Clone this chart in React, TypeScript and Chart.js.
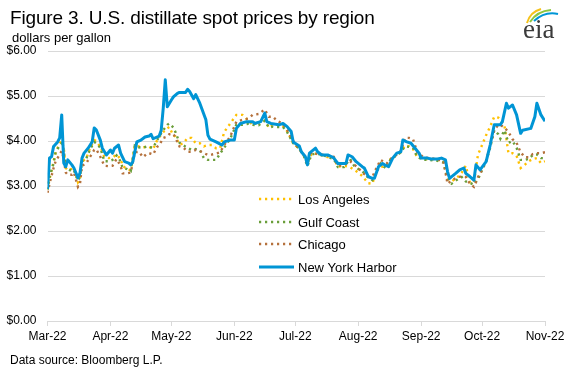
import React, { useEffect, useRef } from "react";
import { Chart, registerables } from "chart.js";

Chart.register(...registerables);

// Month tick positions (days since 1 Mar 2022) and their labels
const monthStarts = [0, 31, 61, 92, 122, 153, 184, 214, 245];
const monthLabels = ["Mar-22", "Apr-22", "May-22", "Jun-22", "Jul-22", "Aug-22", "Sep-22", "Oct-22", "Nov-22"];
const yTicks = [0, 1, 2, 3, 4, 5, 6];

// New York Harbor (days since 1 Mar 2022, $/gal)
const nyDays = [0,1,2,3,5,6,7,8,9,10,12,13,15,16,17,18,20,22,23,24,26,27,29,31,32,33,35,36,38,40,41,42,44,46,48,50,51,52,55,56,57,58,59,61,62,64,65,68,69,70,72,73,75,78,79,80,83,86,87,90,92,93,95,98,101,102,105,107,108,110,114,116,118,120,121,124,125,127,128,129,132,133,135,138,140,141,143,147,148,150,152,155,156,158,160,161,163,165,166,168,170,172,174,175,177,179,181,183,184,187,189,192,194,196,197,198,201,203,205,206,208,210,211,213,216,218,220,223,224,226,227,229,231,233,234,238,240,241,243,245];
const nyVals = [2.93,3.62,3.65,3.88,3.98,4.07,4.58,3.51,3.43,3.58,3.47,3.40,3.18,3.29,3.62,3.73,3.84,3.98,4.29,4.25,4.02,3.84,3.69,3.80,3.73,3.84,3.91,3.73,3.54,3.51,3.47,3.54,3.98,4.02,4.09,4.11,4.15,4.05,4.11,4.24,4.73,5.36,4.76,4.91,4.98,5.06,5.08,5.08,5.15,5.10,4.94,5.03,4.84,4.47,4.13,4.04,3.98,3.91,3.98,4.02,4.02,4.28,4.39,4.43,4.43,4.39,4.43,4.62,4.43,4.39,4.36,4.39,4.32,4.21,3.98,3.89,3.76,3.65,3.47,3.73,3.84,3.76,3.69,3.69,3.65,3.62,3.50,3.50,3.69,3.65,3.54,3.43,3.40,3.21,3.17,3.17,3.43,3.50,3.47,3.43,3.62,3.73,3.76,4.02,3.98,3.95,3.84,3.73,3.62,3.62,3.60,3.60,3.62,3.58,3.32,3.17,3.28,3.36,3.40,3.28,3.21,3.13,3.47,3.36,3.54,3.91,4.36,4.36,4.43,4.84,4.73,4.80,4.58,4.17,4.24,4.28,4.54,4.84,4.58,4.44];

// Shared sample days for the dotted regional series
const regionDays = [0,1,3,4,6,7,8,9,10,12,13,15,16,17,19,21,23,24,26,28,30,32,34,36,37,39,41,43,45,47,49,50,52,54,55,57,59,60,62,63,65,67,69,71,73,75,77,79,81,83,85,87,90,93,96,99,101,104,107,109,111,113,116,118,121,123,126,128,130,132,135,138,141,143,146,149,151,153,155,158,160,162,164,167,169,172,174,176,178,180,182,185,188,192,195,197,199,202,204,206,208,210,212,213,216,218,220,222,223,225,227,229,231,233,235,237,239,241,243,245];
const laVals = [2.92,3.15,3.55,3.75,3.95,4.0,3.85,3.4,3.35,3.38,3.4,3.08,3.15,3.55,3.6,3.85,4.02,4.0,3.87,3.65,3.62,3.63,3.7,3.6,3.45,3.38,3.35,3.9,3.88,3.86,3.87,3.87,3.82,4.02,4.08,4.2,4.28,4.31,4.12,4.1,3.92,3.95,4.07,4.07,3.95,3.95,3.88,3.91,3.91,3.84,3.84,4.2,4.39,4.58,4.58,4.45,4.36,4.42,4.5,4.29,4.35,4.36,4.33,4.22,3.95,3.87,3.7,3.5,3.72,3.72,3.68,3.64,3.62,3.43,3.45,3.42,3.36,3.3,3.22,3.06,3.05,3.35,3.42,3.45,3.6,3.7,3.75,3.9,3.88,3.82,3.65,3.6,3.6,3.58,3.55,3.17,3.1,3.2,3.3,3.45,3.08,3.08,3.7,3.8,4.13,4.32,4.54,4.52,4.47,4.35,3.73,3.73,3.67,3.4,3.47,3.55,3.6,3.62,3.51,3.55];
const gcVals = [2.92,3.2,3.5,3.75,3.9,3.95,3.8,3.4,3.38,3.33,3.35,3.12,3.2,3.55,3.6,3.82,3.98,3.95,3.85,3.55,3.55,3.58,3.68,3.55,3.4,3.38,3.33,3.9,3.86,3.85,3.88,3.87,3.85,4.02,4.1,4.24,4.36,4.39,4.3,4.2,3.96,3.9,3.85,3.8,3.82,3.8,3.62,3.58,3.58,3.58,3.72,3.85,4.05,4.36,4.36,4.38,4.36,4.35,4.45,4.3,4.32,4.31,4.31,4.2,3.95,3.87,3.7,3.44,3.7,3.72,3.7,3.64,3.6,3.42,3.42,3.6,3.45,3.38,3.33,3.18,3.13,3.3,3.5,3.38,3.6,3.68,3.75,3.88,3.87,3.85,3.65,3.58,3.58,3.56,3.52,3.15,3.05,3.15,3.2,3.1,3.07,3.03,3.15,3.25,3.55,3.85,4.24,4.15,4.05,4.24,3.96,4.0,3.85,3.58,3.58,3.6,3.69,3.7,3.62,3.62];
const chVals = [2.85,3.05,3.4,3.55,3.7,3.78,3.6,3.3,3.25,3.25,3.3,2.98,3.05,3.45,3.5,3.65,3.8,3.82,3.65,3.45,3.44,3.45,3.6,3.45,3.28,3.28,3.3,3.75,3.76,3.64,3.72,3.73,3.7,3.87,3.9,4.07,4.1,4.15,4.16,4.07,3.88,3.85,3.76,3.76,3.8,3.78,3.73,3.69,3.7,3.72,3.75,3.91,4.1,4.43,4.47,4.5,4.58,4.6,4.7,4.54,4.54,4.45,4.38,4.25,4.0,3.87,3.72,3.52,3.75,3.72,3.7,3.67,3.65,3.45,3.46,3.55,3.48,3.4,3.3,3.2,3.2,3.4,3.58,3.5,3.6,3.7,3.78,4.07,4.07,4.04,3.76,3.64,3.62,3.6,3.55,3.05,3.12,3.2,3.21,3.2,3.05,2.98,3.2,3.27,3.56,3.9,4.24,4.36,4.36,4.3,4.2,4.04,3.96,3.75,3.64,3.64,3.71,3.73,3.73,3.75];

const seriesNames = ["Los Angeles", "Gulf Coast", "Chicago", "New York Harbor"];
const seriesColors = ["#FFC000", "#6A9E3A", "#B5713C", "#0095D5"];

const FONT = "'Liberation Sans', Arial, sans-serif";

const legendPlugin = {
  id: "insideLegend",
  afterDraw(chart: any) {
    const ctx = chart.ctx;
    const ys = [199, 222, 244, 267];
    ctx.save();
    chart.data.datasets.forEach((ds: any, i: number) => {
      const y = ys[i];
      ctx.beginPath();
      ctx.strokeStyle = ds.borderColor;
      ctx.lineWidth = ds.borderWidth;
      ctx.setLineDash(ds.borderDash || []);
      ctx.lineCap = "butt";
      ctx.moveTo(259, y);
      ctx.lineTo(294, y);
      ctx.stroke();
      ctx.setLineDash([]);
      ctx.fillStyle = "#000";
      ctx.font = `13px ${FONT}`;
      ctx.textAlign = "left";
      ctx.textBaseline = "middle";
      ctx.fillText(ds.label, 298, y + 1);
    });
    ctx.restore();
  },
};

export default function App() {
  const canvasRef = useRef<HTMLCanvasElement | null>(null);

  useEffect(() => {
    const canvas = canvasRef.current;
    if (!canvas) return;
    const dotted = (vals: number[], i: number) => ({
      label: seriesNames[i],
      data: regionDays.map((d, k) => ({ x: d, y: vals[k] })),
      borderColor: seriesColors[i],
      backgroundColor: seriesColors[i],
      borderWidth: 2.4,
      borderDash: [2.2, 3.8],
      borderCapStyle: "butt",
      pointRadius: 0,
      tension: 0,
      order: 3 - i,
    });
    const chart = new Chart(canvas, {
      type: "line",
      data: {
        datasets: [
          dotted(laVals, 0),
          dotted(gcVals, 1),
          dotted(chVals, 2),
          {
            label: seriesNames[3],
            data: nyDays.map((d, k) => ({ x: d, y: nyVals[k] })),
            borderColor: seriesColors[3],
            backgroundColor: seriesColors[3],
            borderWidth: 3,
            pointRadius: 0,
            tension: 0,
            borderJoinStyle: "round",
            order: 0,
          } as any,
        ],
      },
      options: {
        animation: false,
        responsive: false,
        maintainAspectRatio: false,
        layout: { padding: { left: 0, right: 24, top: 51, bottom: 0 } },
        plugins: { legend: { display: false }, tooltip: { enabled: false }, title: { display: false } },
        scales: {
          x: {
            type: "linear",
            min: 0,
            max: 245,
            afterBuildTicks: (scale: any) => {
              scale.ticks = monthStarts.map((v) => ({ value: v }));
            },
            afterFit: (scale: any) => {
              scale.height = 52;
            },
            ticks: {
              autoSkip: false,
              maxRotation: 0,
              padding: 3,
              color: "#000",
              font: { family: FONT, size: 12 },
              callback: (_v: any, i: number) => monthLabels[i],
            },
            grid: {
              drawOnChartArea: false,
              drawTicks: true,
              tickLength: 5,
              color: "#d9d9d9",
            },
            border: { display: false },
          },
          y: {
            min: 0,
            max: 6,
            afterBuildTicks: (scale: any) => {
              scale.ticks = yTicks.map((v) => ({ value: v }));
            },
            afterFit: (scale: any) => {
              scale.width = 47.5;
            },
            ticks: {
              padding: 11,
              color: "#000",
              font: { family: FONT, size: 12 },
              callback: (v: any) => "$" + Number(v).toFixed(2),
            },
            grid: { color: "#d9d9d9", drawTicks: false, lineWidth: 1 },
            border: { display: false },
          },
        },
      },
      plugins: [legendPlugin],
    } as any);
    return () => chart.destroy();
  }, []);

  return (
    <div style={{ position: "absolute", left: 0, top: 0, width: 569, height: 373, background: "#fff", fontFamily: FONT }}>
      <canvas ref={canvasRef} width={569} height={373} style={{ position: "absolute", left: 0, top: 0, width: 569, height: 373 }} />
      <div style={{ position: "absolute", left: 10, top: 8, fontSize: 19, lineHeight: "19px", letterSpacing: "-0.15px", color: "#000", whiteSpace: "nowrap" }}>
        Figure 3. U.S. distillate spot prices by region
      </div>
      <div style={{ position: "absolute", left: 12, top: 31, fontSize: 13, lineHeight: "13px", color: "#000", whiteSpace: "nowrap" }}>
        dollars per gallon
      </div>
      <div style={{ position: "absolute", left: 10, top: 354, fontSize: 12, lineHeight: "12px", color: "#000", whiteSpace: "nowrap" }}>
        Data source: Bloomberg L.P.
      </div>
      <svg style={{ position: "absolute", left: 0, top: 0 }} width={569} height={50}>
        <path d="M527 23 Q530 12 541 9" stroke="#F5C21B" strokeWidth={2} fill="none" />
        <path d="M530 22 Q537 11 551 10" stroke="#8DC63F" strokeWidth={2} fill="none" />
        <path d="M534 21 Q545 11 558 14" stroke="#0096D6" strokeWidth={2} fill="none" />
        <text x={523} y={38} fontFamily="'Liberation Serif', 'DejaVu Serif', serif" fontSize={27} fill="#3b3b3b">eia</text>
      </svg>
    </div>
  );
}
